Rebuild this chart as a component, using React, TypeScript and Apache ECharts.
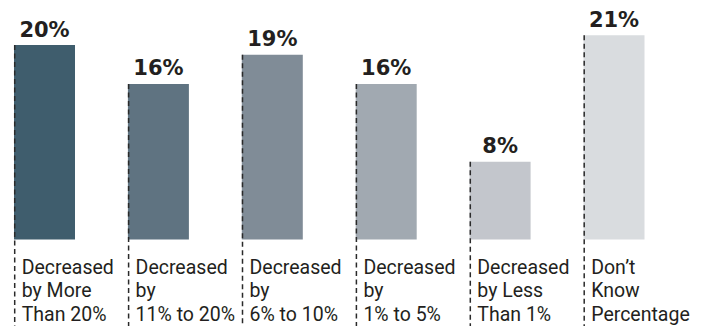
import React, { useEffect, useRef } from "react";
import * as echarts from "echarts";

const categories = [
  "Decreased\nby More\nThan 20%",
  "Decreased\nby\n11% to 20%",
  "Decreased\nby\n6% to 10%",
  "Decreased\nby\n1% to 5%",
  "Decreased\nby Less\nThan 1%",
  "Don’t\nKnow\nPercentage",
];
const values = [20, 16, 19, 16, 8, 21];
const colors = ["#3f5d6d", "#5f7381", "#808c97", "#a1a9b1", "#c3c6cc", "#d9dcdf"];

const BAR_W = 61;

export default function App() {
  const ref = useRef<HTMLDivElement>(null);
  useEffect(() => {
    if (!ref.current) return;
    const chart = echarts.init(ref.current, null, { renderer: "svg" });
    chart.setOption({
      animation: false,
      grid: { left: 44.5, width: 569.5, top: 6.2, bottom: 86.5 },
      xAxis: {
        type: "category",
        data: categories,
        boundaryGap: false,
        axisLine: { show: false },
        axisTick: { show: false },
        axisLabel: { show: false },
        splitLine: { show: false },
      },
      yAxis: {
        type: "value",
        min: 0,
        max: 24,
        show: false,
        splitLine: { show: false },
      },
      series: [
        {
          type: "bar",
          barWidth: BAR_W,
          clip: false,
          data: values.map((v, i) => ({ value: v, itemStyle: { color: colors[i] } })),
          label: {
            show: true,
            position: "top",
            distance: 5,
            formatter: "{c}%",
            fontFamily: "DejaVu Sans",
            fontWeight: "bold",
            fontSize: 21,
            color: "#231f20",
          },
        },
        {
          type: "custom",
          z: 5,
          clip: false,
          data: values.map((v, i) => [i, v]),
          renderItem: (params: any, api: any) => {
            const i = api.value(0);
            const v = api.value(1);
            const pt = api.coord([i, v]);
            const x = pt[0] - BAR_W / 2 + 0.7;
            return {
              type: "group",
              children: [
                {
                  type: "line",
                  shape: { x1: x, y1: pt[1], x2: x, y2: 330 },
                  style: { stroke: "#2a2a2a", lineWidth: 1.5, lineDash: [5, 3.5] },
                },
                {
                  type: "text",
                  x: x + 7,
                  y: 255.6,
                  style: {
                    text: categories[i],
                    fontFamily: "Roboto",
                    fontSize: 19.5,
                    lineHeight: 23.5,
                    fill: "#231f20",
                    align: "left",
                    verticalAlign: "top",
                  },
                },
              ],
            };
          },
        },
      ],
    });
    return () => chart.dispose();
  }, []);
  return <div ref={ref} style={{ width: 706, height: 326, position: "absolute", left: 0, top: 0 }} />;
}
